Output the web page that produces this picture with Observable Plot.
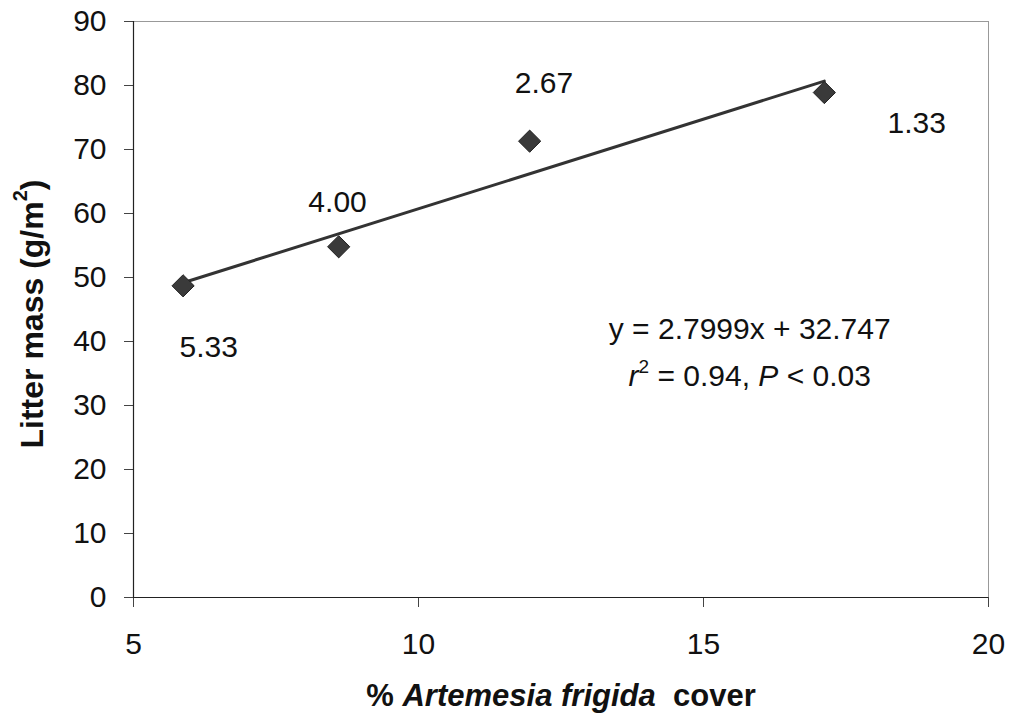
<!DOCTYPE html>
<html>
<head>
<meta charset="utf-8">
<script src="https://cdn.jsdelivr.net/npm/d3@7"></script>
<script src="https://cdn.jsdelivr.net/npm/@observablehq/plot@0.6"></script>
<style>
  html, body { margin: 0; padding: 0; background: white; }
  #chart { width: 1011px; height: 720px; }
</style>
</head>
<body>
<div id="chart"></div>
<script>
// Data
const coverPct = [5.87, 8.6, 11.95, 17.12];        // % Artemesia frigida cover
const litterMass = [48.7, 54.8, 71.3, 78.9];       // g/m^2
const pointLabels = ["5.33", "4.00", "2.67", "1.33"];
const labelX = [6.32, 8.58, 12.2, 18.74];
const labelY = [39.09, 61.71, 80.27, 74.03];
const slope = 2.7999;
const intercept = 32.747;
const xTicks = [5, 10, 15, 20];
const yTicks = [0, 10, 20, 30, 40, 50, 60, 70, 80, 90];
const eqX = 15.82;
const eqY = [40.24, 32.91];

const points = coverPct.map((x, i) => ({x, y: litterMass[i]}));
const labels = pointLabels.map((t, i) => ({t, x: labelX[i], y: labelY[i]}));
const x0 = d3.min(coverPct), x1 = d3.max(coverPct);
const trend = [x0, x1].map(x => ({x, y: slope * x + intercept}));

const font = "Arial, 'Liberation Sans', sans-serif";

const plot = Plot.plot({
  width: 1011,
  height: 720,
  marginLeft: 133,
  marginRight: 23,
  marginTop: 21,
  marginBottom: 123,
  style: {fontFamily: font, fontSize: "30px", background: "white", color: "#111"},
  x: {domain: [5, 20]},
  y: {domain: [0, 90]},
  marks: [
    Plot.frame({stroke: "#999", strokeWidth: 1}),
    Plot.axisX({ticks: xTicks, tickSize: 10, tickPadding: 25, label: null, fontSize: 30, stroke: "#444"}),
    Plot.axisY({ticks: yTicks, tickSize: 9, tickPadding: 18, label: null, fontSize: 30, stroke: "#444"}),
    Plot.ruleY([0], {stroke: "#222", strokeWidth: 1.2}),
    Plot.ruleX([5], {stroke: "#222", strokeWidth: 1.2}),
    Plot.line(trend, {x: "x", y: "y", stroke: "#333", strokeWidth: 3}),
    Plot.dot(points, {x: "x", y: "y", symbol: "diamond2", r: 10, fill: "#3a3a3a", stroke: "#222", strokeWidth: 1}),
    Plot.text(labels, {x: "x", y: "y", text: "t", fontSize: 30, fill: "#111"})
  ]
});

const svg = d3.select(plot);
svg.selectAll("g[aria-label='x-axis tick label'], g[aria-label='y-axis tick label']")
  .attr("font-size", 30);
const sx = plot.scale("x"), sy = plot.scale("y");

// Equation annotation
svg.append("text")
  .attr("x", sx.apply(eqX)).attr("y", sy.apply(eqY[0]))
  .attr("text-anchor", "middle")
  .attr("font-family", font).attr("font-size", 30).attr("fill", "#111")
  .text("y = 2.7999x + 32.747");

const eq2 = svg.append("text")
  .attr("x", sx.apply(eqX)).attr("y", sy.apply(eqY[1]))
  .attr("text-anchor", "middle")
  .attr("font-family", font).attr("font-size", 30).attr("fill", "#111");
eq2.append("tspan").attr("font-style", "italic").text("r");
eq2.append("tspan").attr("font-size", 19).attr("dy", -13).text("2");
eq2.append("tspan").attr("dy", 13).text(" = 0.94, ");
eq2.append("tspan").attr("font-style", "italic").text("P");
eq2.append("tspan").text(" < 0.03");

// X axis title
const xt = svg.append("text")
  .attr("x", 561).attr("y", 706)
  .attr("text-anchor", "middle")
  .attr("font-family", font).attr("font-size", 31).attr("font-weight", "bold").attr("fill", "#111")
  .attr("xml:space", "preserve");
xt.append("tspan").text("% ");
xt.append("tspan").attr("font-style", "italic").text("Artemesia frigida");
xt.append("tspan").text("\u00a0 cover");

// Y axis title
const yt = svg.append("text")
  .attr("transform", "translate(35,314) rotate(-90)")
  .attr("text-anchor", "middle").attr("dominant-baseline", "middle")
  .attr("font-family", font).attr("font-size", 32).attr("font-weight", "bold").attr("fill", "#111");
yt.append("tspan").text("Litter mass (g/m");
yt.append("tspan").attr("font-size", 20).attr("dy", -13).text("2");
yt.append("tspan").attr("dy", 13).text(")");

document.getElementById("chart").appendChild(plot);
</script>
</body>
</html>
